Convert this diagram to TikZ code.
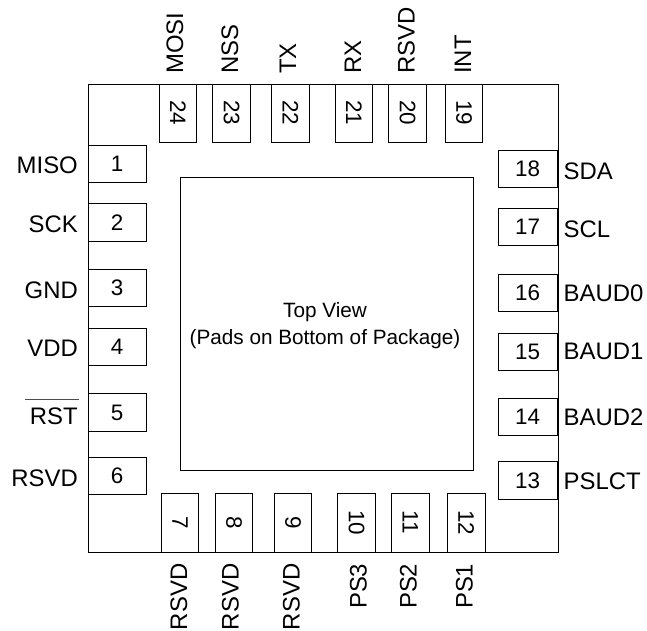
\documentclass[tikz,border=0pt]{standalone}
\usepackage{fontspec}
\setmainfont{Liberation Sans}
\tikzset{
 pad/.style={draw,line width=0.6pt,inner sep=0pt,font=\fontsize{22.5}{22.5}\selectfont},
 lab/.style={inner sep=0pt,font=\fontsize{24}{24}\selectfont},
}
\begin{document}
\begin{tikzpicture}[x=1bp,y=-1bp]
\path[use as bounding box] (0,0) rectangle (647,631);
\draw[line width=0.7pt] (88,84) rectangle (558,552);
\draw[line width=0.7pt] (180.5,177.5) rectangle (473.5,470);
\node[align=center,font=\fontsize{20.8}{27}\selectfont] (c) at (325,326) {Top View\\(Pads on Bottom of Package)};
% left
\foreach \n/\y/\ly/\t in {1/164/165/MISO,2/222.5/224/SCK,3/288/290/GND,4/346.7/348/VDD,6/476/478.5/RSVD}{
 \node[pad,minimum width=58bp,minimum height=37.5bp] (p\n) at (117,\y) {\n};
 \node[lab,anchor=east] (l\n) at (78,\ly) {\t};
}
\node[pad,minimum width=58bp,minimum height=37.5bp] (p5) at (117,412.5) {5};
\node[lab,anchor=east] (l5) at (78,416) {RST};
\coordinate (ra) at (25,399);
\coordinate (rb) at (79,399);
\draw[line width=0.7pt,black!70] (ra) -- (rb);
% right
\foreach \n/\y/\ly/\t in {18/169/171.5/SDA,17/227/229/SCL,16/293/293/BAUD0,15/351.7/351.5/BAUD1,14/417/417.5/BAUD2,13/480.3/481.5/PSLCT}{
 \node[pad,minimum width=59bp,minimum height=37.5bp] (p\n) at (527.5,\y) {\n};
 \node[lab,anchor=west] (l\n) at (563.5,\ly) {\t};
}
% top
\foreach \n/\x/\lx/\t in {24/178/175/MOSI,23/231.5/230/NSS,22/290.5/288/TX,21/354/353/RX,20/407.5/406.5/RSVD,19/464/463/INT}{
 \node[pad,rotate=-90,minimum width=58bp,minimum height=37.5bp] (p\n) at (\x,113) {\n};
 \node[lab,rotate=90,anchor=west] (l\n) at (\lx,74) {\t};
}
% bottom
\foreach \n/\x/\lx/\t in {7/180/179/RSVD,8/234/230.5/RSVD,9/293/291.5/RSVD,10/356.5/358.5/PS3,11/410.3/408.5/PS2,12/466.3/464.5/PS1}{
 \node[pad,rotate=-90,minimum width=59bp,minimum height=37.5bp] (p\n) at (\x,522.5) {\n};
 \node[lab,rotate=90,anchor=east] (l\n) at (\lx,563.5) {\t};
}
\end{tikzpicture}
\end{document}
